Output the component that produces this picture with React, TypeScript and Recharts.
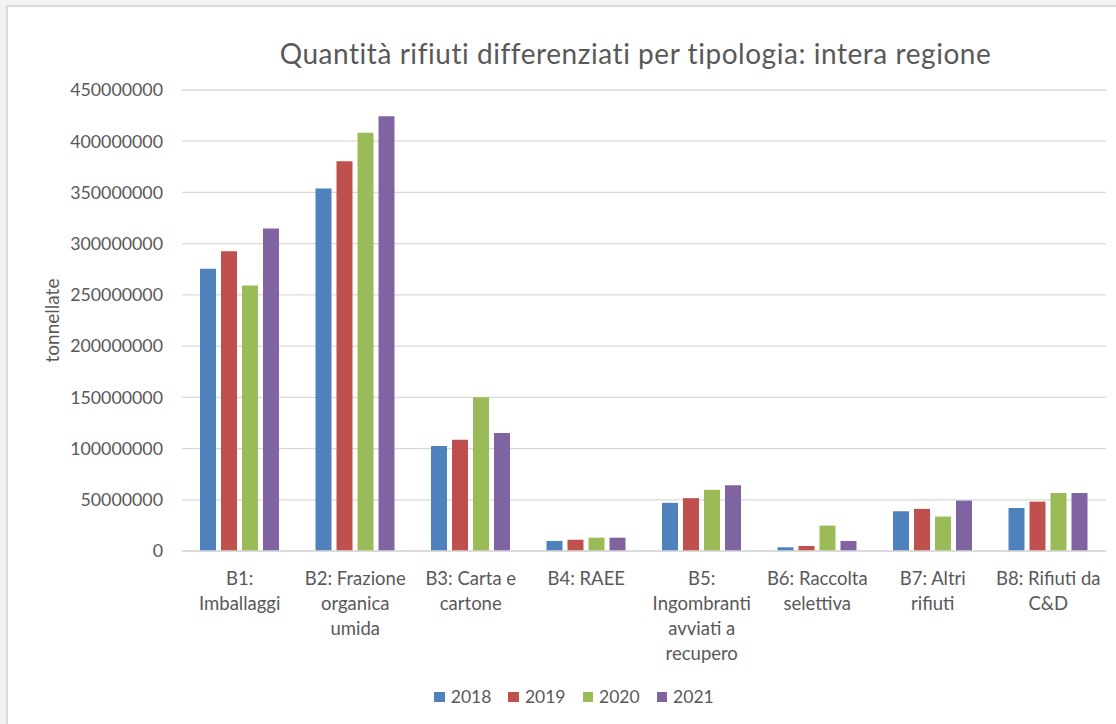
import React from "react";
import { BarChart, Bar, XAxis, YAxis, CartesianGrid, Legend } from "recharts";

const categories = [
  "B1: Imballaggi",
  "B2: Frazione organica umida",
  "B3: Carta e cartone",
  "B4: RAEE",
  "B5: Ingombranti avviati a recupero",
  "B6: Raccolta selettiva",
  "B7: Altri rifiuti",
  "B8: Rifiuti da C&D",
];

const categoryLines = [
  ["B1:", "Imballaggi"],
  ["B2: Frazione", "organica", "umida"],
  ["B3: Carta e", "cartone"],
  ["B4: RAEE"],
  ["B5:", "Ingombranti", "avviati a", "recupero"],
  ["B6: Raccolta", "selettiva"],
  ["B7: Altri", "rifiuti"],
  ["B8: Rifiuti da", "C&D"],
];

const v2018 = [275600000, 353800000, 102400000, 9800000, 47000000, 3600000, 38800000, 42000000];
const v2019 = [292500000, 380500000, 108600000, 11000000, 51600000, 4900000, 41100000, 48200000];
const v2020 = [259200000, 408200000, 150000000, 13000000, 59700000, 24800000, 33600000, 56700000];
const v2021 = [314700000, 424300000, 115100000, 13000000, 64300000, 9800000, 49200000, 56700000];

const yTicks = [0, 50000000, 100000000, 150000000, 200000000, 250000000, 300000000, 350000000, 400000000, 450000000];

const seriesNames = ["2018", "2019", "2020", "2021"];
const seriesColors = ["#4f81bd", "#c0504d", "#9bbb59", "#8064a2"];

const data = categories.map((c, i) => ({
  name: c,
  "2018": v2018[i],
  "2019": v2019[i],
  "2020": v2020[i],
  "2021": v2021[i],
}));

const FONT = "Lato, 'Open Sans', sans-serif";
const TEXT = "#595959";

const CategoryTick = (props: any) => {
  const { x, y, payload } = props;
  const idx = categories.indexOf(payload.value);
  const lines = idx >= 0 ? categoryLines[idx] : [String(payload.value)];
  return (
    <text x={x} y={y} textAnchor="middle" fill={TEXT} fontSize={18.5} fontFamily={FONT}>
      {lines.map((l, i) => (
        <tspan key={i} x={x} dy={i === 0 ? 34 : 25}>
          {l}
        </tspan>
      ))}
    </text>
  );
};

const LegendContent = (props: any) => {
  const payload = props.payload || [];
  return (
    <div
      style={{
        display: "flex",
        justifyContent: "center",
        height: 40,
        paddingLeft: 42,
        boxSizing: "border-box",
        fontFamily: FONT,
      }}
    >
      {payload.map((e: any, i: number) => (
        <div
          key={i}
          style={{
            display: "flex",
            alignItems: "center",
            height: 20,
            marginTop: 3,
            marginRight: i < payload.length - 1 ? 17 : 0,
          }}
        >
          <span style={{ display: "inline-block", width: 10.5, height: 10.5, background: e.color, marginRight: 6 }} />
          <span style={{ fontSize: 17.5, lineHeight: "20px", color: TEXT }}>{e.value}</span>
        </div>
      ))}
    </div>
  );
};

export default function App() {
  return (
    <div
      style={{
        position: "absolute",
        left: 0,
        top: 0,
        width: 1116,
        height: 724,
        background: "#f3f3f3",
        overflow: "hidden",
        fontFamily: FONT,
      }}
    >
      <div
        style={{
          position: "absolute",
          left: 6,
          top: 5,
          width: 1110,
          height: 719,
          background: "#ffffff",
          borderLeft: "2px solid #d9d9d9",
          borderTop: "2px solid #d9d9d9",
          boxSizing: "border-box",
        }}
      />
      <div
        style={{
          position: "absolute",
          left: 0,
          top: 35.5,
          width: 1271,
          textAlign: "center",
          fontSize: 28,
          letterSpacing: 0.55,
          lineHeight: "34px",
          color: TEXT,
          whiteSpace: "nowrap",
        }}
      >
        Quantità rifiuti differenziati per tipologia: intera regione
      </div>
      <div style={{ position: "absolute", left: 0, top: 0 }}>
        <BarChart
          width={1116}
          height={724}
          data={data}
          margin={{ top: 90, right: 10, left: 0, bottom: 0 }}
          barSize={16}
          barGap={5}
        >
          <CartesianGrid vertical={false} stroke="#d9d9d9" strokeWidth={1.3} />
          <XAxis
            dataKey="name"
            interval={0}
            height={133}
            tickLine={false}
            tickSize={0}
            tickMargin={0}
            axisLine={{ stroke: "#d9d9d9", strokeWidth: 1.3 }}
            tick={<CategoryTick />}
          />
          <YAxis
            width={182}
            domain={[0, 450000000]}
            ticks={yTicks}
            interval={0}
            tickLine={false}
            axisLine={false}
            tickSize={0}
            tickMargin={19}
            tick={{ fill: TEXT, fontSize: 17.8, fontFamily: FONT }}
            label={{
              value: "tonnellate",
              angle: -90,
              position: "insideLeft",
              offset: 52,
              style: { textAnchor: "middle", fill: TEXT, fontSize: 19, fontFamily: FONT },
            }}
          />
          <Legend verticalAlign="bottom" content={<LegendContent />} />
          {seriesNames.map((s, i) => (
            <Bar key={s} dataKey={s} name={s} fill={seriesColors[i]} isAnimationActive={false} />
          ))}
        </BarChart>
      </div>
    </div>
  );
}
